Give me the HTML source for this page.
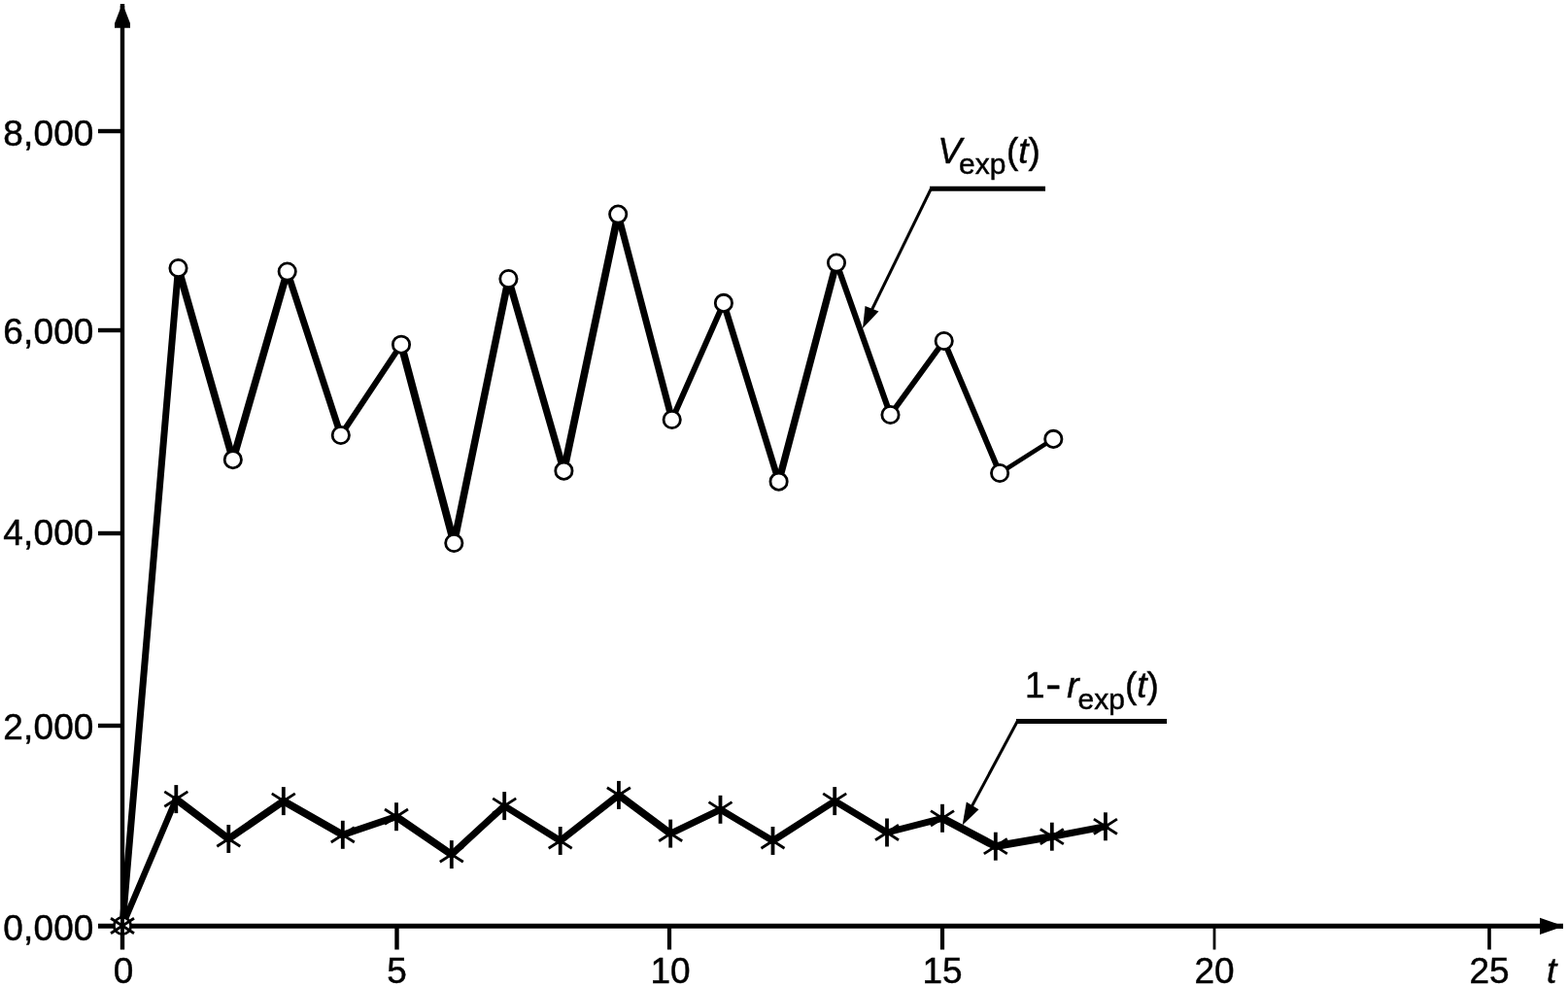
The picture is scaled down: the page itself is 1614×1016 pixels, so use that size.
<!DOCTYPE html>
<html lang="en"><head><meta charset="utf-8"><title>Chart</title>
<style>
html,body{margin:0;padding:0;background:#fff;}
body{width:1614px;height:1016px;overflow:hidden;}
svg{display:block;}
text{font-family:"Liberation Sans",Arial,sans-serif;fill:#000;stroke:#000;stroke-width:0.45px;}
.n{font-size:37px;}
.y{letter-spacing:0.15px;}
.i{font-style:italic;}
.s{font-size:30px;}
</style></head><body>
<svg width="1614" height="1016" viewBox="0 0 1614 1016">
<rect width="1614" height="1016" fill="#fff"/>
<g stroke="#000" fill="none">
<line x1="126" y1="6" x2="126" y2="977.5" stroke-width="4.4"/>
<line x1="101" y1="953.3" x2="1609" y2="953.3" stroke-width="5"/>
<line x1="101" y1="135" x2="126" y2="135" stroke-width="4.4"/>
<line x1="101" y1="340" x2="126" y2="340" stroke-width="4.4"/>
<line x1="101" y1="549" x2="126" y2="549" stroke-width="4.4"/>
<line x1="101" y1="747" x2="126" y2="747" stroke-width="4.4"/>
<line x1="408.5" y1="953" x2="408.5" y2="977.5" stroke-width="4.4"/>
<line x1="689" y1="953" x2="689" y2="977.5" stroke-width="4.2"/>
<line x1="970" y1="953" x2="970" y2="977.5" stroke-width="4.2"/>
<line x1="1250" y1="953" x2="1250" y2="977.5" stroke-width="2.8"/>
<line x1="1533" y1="953" x2="1533" y2="977.5" stroke-width="3.6"/>
</g>
<polygon points="126,4 128.2,4 128.2,9 134,24 134,28.8 118,28.8 118,24 123.8,9 123.8,4" fill="#000"/>
<polygon points="1585,944.8 1603,951 1609,951 1609,955.8 1603,955.8 1585,962" fill="#000"/>
<g stroke="#000" fill="none" stroke-linecap="round">
<line x1="126" y1="953" x2="183.5" y2="276" stroke-width="7"/>
<line x1="183.5" y1="276" x2="239.8" y2="473.2" stroke-width="7.6"/>
<line x1="239.8" y1="473.2" x2="295.7" y2="279.5" stroke-width="7.6"/>
<line x1="295.7" y1="279.5" x2="350.8" y2="448" stroke-width="7"/>
<line x1="350.8" y1="448" x2="413" y2="354.7" stroke-width="6"/>
<line x1="413" y1="354.7" x2="467.3" y2="559" stroke-width="7.8"/>
<line x1="467.3" y1="559" x2="523.4" y2="287" stroke-width="7.5"/>
<line x1="523.4" y1="287" x2="580.4" y2="484.7" stroke-width="7.2"/>
<line x1="580.4" y1="484.7" x2="636.2" y2="220.6" stroke-width="7.7"/>
<line x1="636.2" y1="220.6" x2="691.7" y2="432" stroke-width="6.9"/>
<line x1="691.7" y1="432" x2="744.9" y2="311.9" stroke-width="6"/>
<line x1="744.9" y1="311.9" x2="801.6" y2="495.7" stroke-width="6.7"/>
<line x1="801.6" y1="495.7" x2="861" y2="270.5" stroke-width="7.3"/>
<line x1="861" y1="270.5" x2="916.5" y2="427" stroke-width="6.1"/>
<line x1="916.5" y1="427" x2="971.7" y2="351" stroke-width="5.7"/>
<line x1="971.7" y1="351" x2="1029.1" y2="487" stroke-width="5.9"/>
<line x1="1029.1" y1="487" x2="1084.3" y2="451.9" stroke-width="4.6"/>
</g>
<g stroke="#000" fill="none" stroke-linecap="round">
<line x1="126" y1="953" x2="181.3" y2="822.6" stroke-width="6.4"/>
<line x1="181.3" y1="822.6" x2="235.3" y2="863.5" stroke-width="7.8"/>
<line x1="235.3" y1="863.5" x2="291.8" y2="824.6" stroke-width="7.5"/>
<line x1="291.8" y1="824.6" x2="352.8" y2="859.3" stroke-width="7.7"/>
<line x1="352.8" y1="859.3" x2="408" y2="840.7" stroke-width="7.2"/>
<line x1="408" y1="840.7" x2="464.8" y2="879.6" stroke-width="7.8"/>
<line x1="464.8" y1="879.6" x2="519.2" y2="829.6" stroke-width="7"/>
<line x1="519.2" y1="829.6" x2="576.7" y2="865.5" stroke-width="7"/>
<line x1="576.7" y1="865.5" x2="636.9" y2="818.4" stroke-width="7.2"/>
<line x1="636.9" y1="818.4" x2="690.2" y2="858.1" stroke-width="7.6"/>
<line x1="690.2" y1="858.1" x2="741.5" y2="833.3" stroke-width="6.9"/>
<line x1="741.5" y1="833.3" x2="795.5" y2="865.5" stroke-width="7"/>
<line x1="795.5" y1="865.5" x2="859.2" y2="824.6" stroke-width="7"/>
<line x1="859.2" y1="824.6" x2="913" y2="857" stroke-width="7"/>
<line x1="913" y1="857" x2="970" y2="842.3" stroke-width="6.9"/>
<line x1="970" y1="842.3" x2="1024.8" y2="871.2" stroke-width="8"/>
<line x1="1024.8" y1="871.2" x2="1082.8" y2="861.2" stroke-width="7.8"/>
<line x1="1082.8" y1="861.2" x2="1137.9" y2="850.8" stroke-width="7.1"/>
</g>
<circle cx="126" cy="953" r="8.65" fill="#fff" stroke="#000" stroke-width="2.8"/>
<circle cx="183.5" cy="276" r="8.65" fill="#fff" stroke="#000" stroke-width="2.8"/>
<circle cx="239.8" cy="473.2" r="8.65" fill="#fff" stroke="#000" stroke-width="2.8"/>
<circle cx="295.7" cy="279.5" r="8.65" fill="#fff" stroke="#000" stroke-width="2.8"/>
<circle cx="350.8" cy="448" r="8.65" fill="#fff" stroke="#000" stroke-width="2.8"/>
<circle cx="413" cy="354.7" r="8.65" fill="#fff" stroke="#000" stroke-width="2.8"/>
<circle cx="467.3" cy="559" r="8.65" fill="#fff" stroke="#000" stroke-width="2.8"/>
<circle cx="523.4" cy="287" r="8.65" fill="#fff" stroke="#000" stroke-width="2.8"/>
<circle cx="580.4" cy="484.7" r="8.65" fill="#fff" stroke="#000" stroke-width="2.8"/>
<circle cx="636.2" cy="220.6" r="8.65" fill="#fff" stroke="#000" stroke-width="2.8"/>
<circle cx="691.7" cy="432" r="8.65" fill="#fff" stroke="#000" stroke-width="2.8"/>
<circle cx="744.9" cy="311.9" r="8.65" fill="#fff" stroke="#000" stroke-width="2.8"/>
<circle cx="801.6" cy="495.7" r="8.65" fill="#fff" stroke="#000" stroke-width="2.8"/>
<circle cx="861" cy="270.5" r="8.65" fill="#fff" stroke="#000" stroke-width="2.8"/>
<circle cx="916.5" cy="427" r="8.65" fill="#fff" stroke="#000" stroke-width="2.8"/>
<circle cx="971.7" cy="351" r="8.65" fill="#fff" stroke="#000" stroke-width="2.8"/>
<circle cx="1029.1" cy="487" r="8.65" fill="#fff" stroke="#000" stroke-width="2.8"/>
<circle cx="1084.3" cy="451.9" r="8.65" fill="#fff" stroke="#000" stroke-width="2.8"/>
<g transform="translate(126,953)" stroke="#000" fill="none"><line x1="0" y1="-14.5" x2="0" y2="14.5" stroke-width="3.8"/><line x1="-12" y1="-7.7" x2="12" y2="7.7" stroke-width="2.8"/><line x1="-12" y1="7.7" x2="12" y2="-7.7" stroke-width="2.8"/></g>
<g transform="translate(181.3,822.6)" stroke="#000" fill="none"><line x1="0" y1="-14.5" x2="0" y2="14.5" stroke-width="3.8"/><line x1="-12" y1="-7.7" x2="12" y2="7.7" stroke-width="2.8"/><line x1="-12" y1="7.7" x2="12" y2="-7.7" stroke-width="2.8"/></g>
<g transform="translate(235.3,863.5)" stroke="#000" fill="none"><line x1="0" y1="-14.5" x2="0" y2="14.5" stroke-width="3.8"/><line x1="-12" y1="-7.7" x2="12" y2="7.7" stroke-width="2.8"/><line x1="-12" y1="7.7" x2="12" y2="-7.7" stroke-width="2.8"/></g>
<g transform="translate(291.8,824.6)" stroke="#000" fill="none"><line x1="0" y1="-14.5" x2="0" y2="14.5" stroke-width="3.8"/><line x1="-12" y1="-7.7" x2="12" y2="7.7" stroke-width="2.8"/><line x1="-12" y1="7.7" x2="12" y2="-7.7" stroke-width="2.8"/></g>
<g transform="translate(352.8,859.3)" stroke="#000" fill="none"><line x1="0" y1="-14.5" x2="0" y2="14.5" stroke-width="3.8"/><line x1="-12" y1="-7.7" x2="12" y2="7.7" stroke-width="2.8"/><line x1="-12" y1="7.7" x2="12" y2="-7.7" stroke-width="2.8"/></g>
<g transform="translate(408,840.7)" stroke="#000" fill="none"><line x1="0" y1="-14.5" x2="0" y2="14.5" stroke-width="3.8"/><line x1="-12" y1="-7.7" x2="12" y2="7.7" stroke-width="2.8"/><line x1="-12" y1="7.7" x2="12" y2="-7.7" stroke-width="2.8"/></g>
<g transform="translate(464.8,879.6)" stroke="#000" fill="none"><line x1="0" y1="-14.5" x2="0" y2="14.5" stroke-width="3.8"/><line x1="-12" y1="-7.7" x2="12" y2="7.7" stroke-width="2.8"/><line x1="-12" y1="7.7" x2="12" y2="-7.7" stroke-width="2.8"/></g>
<g transform="translate(519.2,829.6)" stroke="#000" fill="none"><line x1="0" y1="-14.5" x2="0" y2="14.5" stroke-width="3.8"/><line x1="-12" y1="-7.7" x2="12" y2="7.7" stroke-width="2.8"/><line x1="-12" y1="7.7" x2="12" y2="-7.7" stroke-width="2.8"/></g>
<g transform="translate(576.7,865.5)" stroke="#000" fill="none"><line x1="0" y1="-14.5" x2="0" y2="14.5" stroke-width="3.8"/><line x1="-12" y1="-7.7" x2="12" y2="7.7" stroke-width="2.8"/><line x1="-12" y1="7.7" x2="12" y2="-7.7" stroke-width="2.8"/></g>
<g transform="translate(636.9,818.4)" stroke="#000" fill="none"><line x1="0" y1="-14.5" x2="0" y2="14.5" stroke-width="3.8"/><line x1="-12" y1="-7.7" x2="12" y2="7.7" stroke-width="2.8"/><line x1="-12" y1="7.7" x2="12" y2="-7.7" stroke-width="2.8"/></g>
<g transform="translate(690.2,858.1)" stroke="#000" fill="none"><line x1="0" y1="-14.5" x2="0" y2="14.5" stroke-width="3.8"/><line x1="-12" y1="-7.7" x2="12" y2="7.7" stroke-width="2.8"/><line x1="-12" y1="7.7" x2="12" y2="-7.7" stroke-width="2.8"/></g>
<g transform="translate(741.5,833.3)" stroke="#000" fill="none"><line x1="0" y1="-14.5" x2="0" y2="14.5" stroke-width="3.8"/><line x1="-12" y1="-7.7" x2="12" y2="7.7" stroke-width="2.8"/><line x1="-12" y1="7.7" x2="12" y2="-7.7" stroke-width="2.8"/></g>
<g transform="translate(795.5,865.5)" stroke="#000" fill="none"><line x1="0" y1="-14.5" x2="0" y2="14.5" stroke-width="3.8"/><line x1="-12" y1="-7.7" x2="12" y2="7.7" stroke-width="2.8"/><line x1="-12" y1="7.7" x2="12" y2="-7.7" stroke-width="2.8"/></g>
<g transform="translate(859.2,824.6)" stroke="#000" fill="none"><line x1="0" y1="-14.5" x2="0" y2="14.5" stroke-width="3.8"/><line x1="-12" y1="-7.7" x2="12" y2="7.7" stroke-width="2.8"/><line x1="-12" y1="7.7" x2="12" y2="-7.7" stroke-width="2.8"/></g>
<g transform="translate(913,857)" stroke="#000" fill="none"><line x1="0" y1="-14.5" x2="0" y2="14.5" stroke-width="3.8"/><line x1="-12" y1="-7.7" x2="12" y2="7.7" stroke-width="2.8"/><line x1="-12" y1="7.7" x2="12" y2="-7.7" stroke-width="2.8"/></g>
<g transform="translate(970,842.3)" stroke="#000" fill="none"><line x1="0" y1="-14.5" x2="0" y2="14.5" stroke-width="3.8"/><line x1="-12" y1="-7.7" x2="12" y2="7.7" stroke-width="2.8"/><line x1="-12" y1="7.7" x2="12" y2="-7.7" stroke-width="2.8"/></g>
<g transform="translate(1024.8,871.2)" stroke="#000" fill="none"><line x1="0" y1="-14.5" x2="0" y2="14.5" stroke-width="3.8"/><line x1="-12" y1="-7.7" x2="12" y2="7.7" stroke-width="2.8"/><line x1="-12" y1="7.7" x2="12" y2="-7.7" stroke-width="2.8"/></g>
<g transform="translate(1082.8,861.2)" stroke="#000" fill="none"><line x1="0" y1="-14.5" x2="0" y2="14.5" stroke-width="3.8"/><line x1="-12" y1="-7.7" x2="12" y2="7.7" stroke-width="2.8"/><line x1="-12" y1="7.7" x2="12" y2="-7.7" stroke-width="2.8"/></g>
<g transform="translate(1137.9,850.8)" stroke="#000" fill="none"><line x1="0" y1="-14.5" x2="0" y2="14.5" stroke-width="3.8"/><line x1="-12" y1="-7.7" x2="12" y2="7.7" stroke-width="2.8"/><line x1="-12" y1="7.7" x2="12" y2="-7.7" stroke-width="2.8"/></g>
<g stroke="#000" fill="none">
<line x1="957" y1="194.3" x2="1076" y2="194.3" stroke-width="5"/>
<line x1="958.5" y1="194" x2="893" y2="328" stroke-width="3"/>
<line x1="1046" y1="742.4" x2="1201" y2="742.4" stroke-width="5"/>
<line x1="1047.5" y1="742" x2="995" y2="840" stroke-width="3"/>
</g>
<polygon points="888,338 890.5,315 904.5,320.5" fill="#000"/>
<polygon points="990.6,849.5 994.8,825.5 1007.5,833.3" fill="#000"/>
<text class="n y" x="96.6" y="150.4" text-anchor="end">8,000</text>
<text class="n y" x="96.6" y="353.8" text-anchor="end">6,000</text>
<text class="n y" x="96.6" y="560.8" text-anchor="end">4,000</text>
<text class="n y" x="96.6" y="760.8" text-anchor="end">2,000</text>
<text class="n y" x="96.6" y="967.8" text-anchor="end">0,000</text>
<text class="n" x="127" y="1011.7" text-anchor="middle">0</text>
<text class="n" x="408.5" y="1011.7" text-anchor="middle">5</text>
<text class="n" x="690" y="1011.7" text-anchor="middle">10</text>
<text class="n" x="970" y="1011.7" text-anchor="middle">15</text>
<text class="n" x="1250" y="1011.7" text-anchor="middle">20</text>
<text class="n" x="1533" y="1011.7" text-anchor="middle">25</text>
<text class="n i" x="1592" y="1011.7">t</text>
<text class="n i" x="965.3" y="167.5">V</text><text class="s" x="987" y="179">exp</text><text class="n" x="1036" y="167.5">(<tspan class="i">t</tspan>)</text>
<text class="n" x="1055" y="718.2">1</text><text class="n" transform="translate(1076.3,718.8) scale(1.3,1.15)">-</text><text class="n i" x="1098.3" y="718.2">r</text><text class="s" x="1109.5" y="729.5">exp</text><text class="n" x="1158" y="718.2">(<tspan class="i">t</tspan>)</text>
</svg></body></html>
